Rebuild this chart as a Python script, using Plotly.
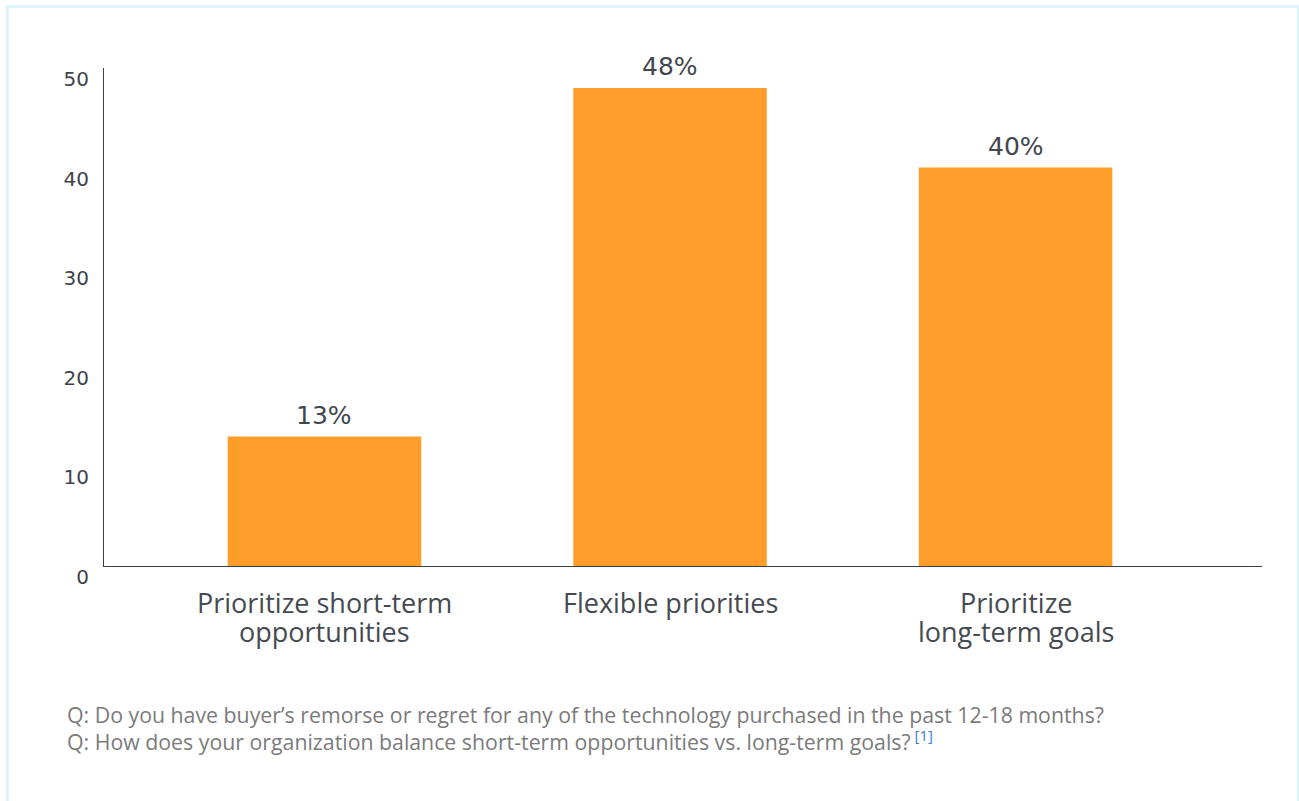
import plotly.graph_objects as go

# Survey responses: how organizations balance short-term vs long-term goals
categories = [
    "Prioritize short-term<br>opportunities",
    "Flexible priorities",
    "Prioritize<br>long-term goals",
]
shares = [13, 48, 40]

y_ticks = [0, 10, 20, 30, 40, 50]

footnotes = [
    "Q: Do you have buyer\u2019s remorse or regret for any of the technology purchased in the past 12-18 months?",
    "Q: How does your organization balance short-term opportunities vs. long-term goals?"
    "<sup><span style='color:#3b7fd4'> [1]</span></sup>",
]

BAR_COLOR = "#FF9D2A"
TEXT_DARK = "#42464d"
NOTE_GREY = "#7b7b7b"

fig = go.Figure(
    go.Bar(
        x=categories,
        y=shares,
        width=0.56,
        marker=dict(color=BAR_COLOR, line=dict(width=0)),
        hoverinfo="skip",
    )
)

# value labels above each bar
for cat, val in zip(categories, shares):
    fig.add_annotation(
        x=cat, y=val, text=f"{val}%", showarrow=False,
        yanchor="bottom", yshift=5,
        font=dict(family="DejaVu Sans", size=25, color=TEXT_DARK),
    )

# category names under the axis, one annotation per line for tighter leading
for cat in categories:
    for j, line in enumerate(cat.split("<br>")):
        fig.add_annotation(
            x=cat, xref="x", yref="paper", y=0,
            yanchor="middle", yshift=-36 - 29 * j,
            text=line, showarrow=False,
            font=dict(family="Open Sans", size=27, color="#454a51"),
        )

# question footnotes beneath the chart
for i, note in enumerate(footnotes):
    fig.add_annotation(
        xref="paper", yref="paper", x=0, y=0,
        xanchor="left", yanchor="middle",
        xshift=-39, yshift=-148 - 26 * i,
        text=note, showarrow=False, align="left",
        font=dict(family="Open Sans", size=21.3, color=NOTE_GREY),
    )

# light frame around the card
fig.add_shape(
    type="rect", xref="paper", yref="paper",
    xsizemode="pixel", ysizemode="pixel", xanchor=0, yanchor=0,
    x0=-96.5, x1=1194.3, y0=-262, y1=559.5,
    line=dict(color="#def3fb", width=3), fillcolor="rgba(0,0,0,0)",
    layer="below",
)

fig.update_layout(
    width=1299, height=801,
    margin=dict(l=104, r=37, t=68, b=235),
    paper_bgcolor="white", plot_bgcolor="white",
    showlegend=False,
)

fig.update_xaxes(
    type="category",
    range=[-0.638, 2.713],
    showline=True, linecolor="#3b3f45", linewidth=1,
    showgrid=False, zeroline=False, ticks="",
    showticklabels=False,
)

fig.update_yaxes(
    range=[0, 50],
    tickvals=y_ticks,
    showline=True, linecolor="#3b3f45", linewidth=1,
    showgrid=False, zeroline=False, ticks="",
    tickfont=dict(family="DejaVu Sans", size=20, color="#3f434a"),
    ticklabelshift=11,
    ticklabelstandoff=10,
)

fig.write_html("out.html")
